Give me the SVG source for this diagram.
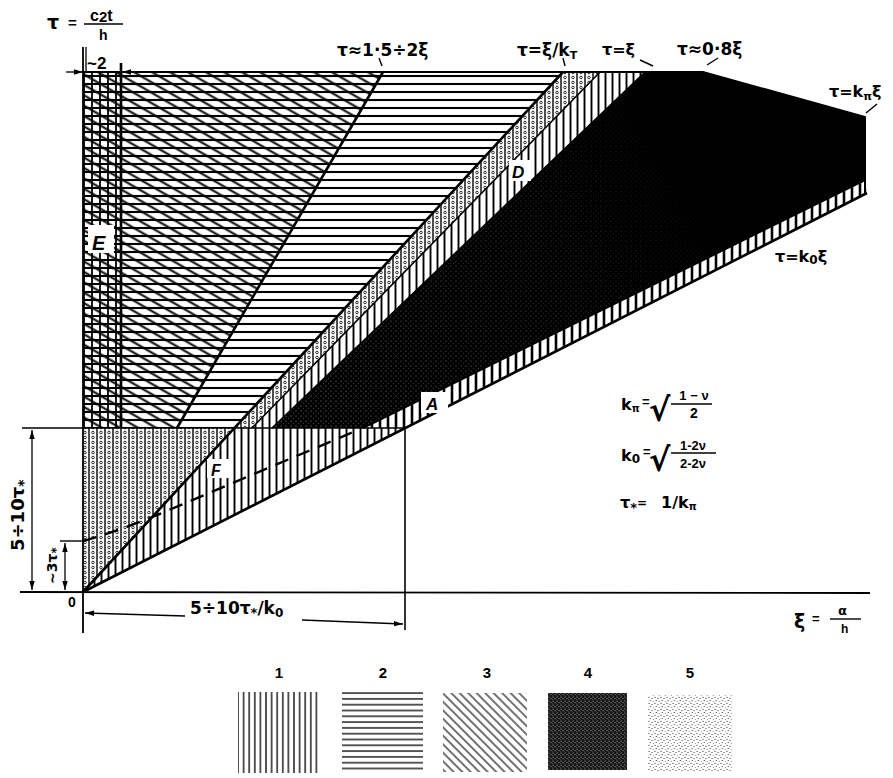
<svg xmlns="http://www.w3.org/2000/svg" width="893" height="778" viewBox="0 0 893 778">
<defs>
<style>
.t{font-family:"Liberation Sans","DejaVu Sans",sans-serif;font-weight:bold;fill:#000}
.g{font-family:"DejaVu Sans","Liberation Sans",sans-serif;font-weight:bold;fill:#000}
.ln{stroke:#000;fill:none}
.box{fill:#fff;stroke:none}
</style>
<pattern id="pv" width="7" height="7" patternUnits="userSpaceOnUse"><rect width="7" height="7" fill="#fff"/><line x1="3.5" y1="0" x2="3.5" y2="7" stroke="#000" stroke-width="1.9"/></pattern>
<pattern id="pvA" width="8" height="8" patternUnits="userSpaceOnUse"><rect width="8" height="8" fill="#fff"/><line x1="4" y1="0" x2="4" y2="8" stroke="#000" stroke-width="2.6"/></pattern>
<pattern id="ph" width="8" height="8" patternUnits="userSpaceOnUse"><line x1="0" y1="4" x2="8" y2="4" stroke="#000" stroke-width="2.1"/></pattern>
<pattern id="pvE" width="8" height="8" patternUnits="userSpaceOnUse"><line x1="4" y1="0" x2="4" y2="8" stroke="#000" stroke-width="1.8"/></pattern>
<pattern id="pd" width="9" height="9" patternUnits="userSpaceOnUse" patternTransform="rotate(30)"><line x1="0" y1="4.5" x2="9" y2="4.5" stroke="#000" stroke-width="2"/></pattern>
<pattern id="pc" width="8" height="5" patternUnits="userSpaceOnUse"><rect width="8" height="5" fill="#fff"/><line x1="1" y1="0" x2="1" y2="5" stroke="#000" stroke-width="1.4"/><circle cx="5" cy="2.5" r="1.3" fill="none" stroke="#000" stroke-width="0.8"/></pattern>
<pattern id="pDark" width="5" height="5" patternUnits="userSpaceOnUse"><rect width="5" height="5" fill="#000"/><circle cx="1" cy="1" r="0.5" fill="#fff" opacity="0.75"/><circle cx="3.5" cy="3.2" r="0.45" fill="#fff" opacity="0.6"/></pattern>
<linearGradient id="gDark" gradientUnits="userSpaceOnUse" x1="300" y1="420" x2="820" y2="140"><stop offset="0" stop-color="#000" stop-opacity="0"/><stop offset="0.55" stop-color="#000" stop-opacity="0.55"/><stop offset="0.8" stop-color="#000" stop-opacity="1"/></linearGradient>
<pattern id="l1" width="5.6" height="10" patternUnits="userSpaceOnUse"><rect width="5.6" height="10" fill="#fff"/><line x1="2.8" y1="0" x2="2.8" y2="10" stroke="#000" stroke-width="1.3"/></pattern>
<pattern id="l2" width="10" height="5.8" patternUnits="userSpaceOnUse"><rect width="10" height="5.8" fill="#fff"/><line x1="0" y1="2.9" x2="10" y2="2.9" stroke="#000" stroke-width="1.3"/></pattern>
<pattern id="l3" width="10" height="6" patternUnits="userSpaceOnUse" patternTransform="rotate(45)"><rect width="10" height="6" fill="#fff"/><line x1="0" y1="3" x2="10" y2="3" stroke="#000" stroke-width="1.1"/></pattern>
<pattern id="l4" width="4" height="4" patternUnits="userSpaceOnUse"><rect width="4" height="4" fill="#151515"/><circle cx="1" cy="1" r="0.6" fill="#fff" opacity="0.75"/><circle cx="3" cy="2.6" r="0.55" fill="#fff" opacity="0.6"/><circle cx="0.6" cy="3.4" r="0.4" fill="#fff" opacity="0.5"/></pattern>
<pattern id="l5" width="6" height="6" patternUnits="userSpaceOnUse"><rect width="6" height="6" fill="#fff"/><circle cx="1" cy="1.2" r="0.55" fill="#000"/><circle cx="4" cy="2.5" r="0.5" fill="#000"/><circle cx="2.2" cy="4.6" r="0.5" fill="#000"/><circle cx="5.2" cy="5.4" r="0.45" fill="#000"/></pattern>
<marker id="ah" viewBox="0 0 10 10" refX="10" refY="5" markerWidth="7" markerHeight="7" orient="auto-start-reverse"><path d="M0,2 L10,5 L0,8 z" fill="#000"/></marker>
</defs>
<rect width="893" height="778" fill="#fff"/>

<g id="regions">
  <g id="region-E">
    <rect x="83" y="72" width="38" height="356" fill="#fff"/>
    <rect x="83" y="72" width="38" height="356" fill="url(#ph)"/>
    <rect x="83" y="72" width="38" height="356" fill="url(#pd)"/>
    <rect x="83" y="72" width="38" height="356" fill="url(#pvE)"/>
  </g>
  <g id="region-cross">
    <polygon points="121,72 383,72 177,428 121,428" fill="url(#ph)"/>
    <polygon points="121,72 383,72 177,428 121,428" fill="url(#pd)"/>
  </g>
  <g id="region-horizontal">
    <polygon points="383,72 563,72 235,428 177,428" fill="url(#ph)"/>
  </g>
  <g id="region-dotted-band">
    <polygon points="563,72 600,72 252,428 235,428" fill="url(#pc)"/>
  </g>
  <g id="region-D">
    <polygon points="600,72 645,72 272,428 252,428" fill="url(#pv)"/>
  </g>
  <g id="region-dark">
    <polygon points="645,72 703,72 865,117 865,180 363,428 272,428" fill="url(#pDark)"/>
    <polygon points="645,72 703,72 865,117 865,180 363,428 272,428" fill="url(#gDark)"/>
  </g>
  <g id="region-A">
    <polygon points="363,428 865,180 867,193 405,428" fill="url(#pvA)"/>
  </g>
  <g id="region-dotted-low">
    <polygon points="83,428 235,428 83,592" fill="url(#pc)"/>
  </g>
  <g id="region-F">
    <polygon points="83,592 235,428 405,428" fill="url(#pv)"/>
  </g>
</g>

<g id="connectors">
  <polyline class="ln" points="83,72 703,72 865,117 865,193" stroke-width="2"/>
  <line class="ln" x1="177" y1="428" x2="383" y2="72" stroke-width="2.6"/>
  <line class="ln" x1="83" y1="592" x2="563" y2="72" stroke-width="2.6"/>
  <line class="ln" x1="252" y1="428" x2="600" y2="72" stroke-width="1.6"/>
  <line class="ln" x1="272" y1="428" x2="645" y2="72" stroke-width="1.6"/>
  <line class="ln" x1="363" y1="428" x2="865" y2="180" stroke-width="2.2"/>
  <line class="ln" x1="83" y1="592" x2="867" y2="193" stroke-width="2.6"/>
  <line class="ln" x1="22" y1="428" x2="405" y2="428" stroke-width="1.6"/>
  <line class="ln" x1="121" y1="63" x2="121" y2="428" stroke-width="2.6"/>
  <line class="ln" x1="83" y1="47" x2="83" y2="633" stroke-width="1.8"/>
  <line class="ln" x1="20" y1="592" x2="870" y2="593" stroke-width="1.8"/>
  <line class="ln" x1="405" y1="428" x2="405" y2="630" stroke-width="1.6"/>
  <path class="ln" d="M83,541 Q112,533 150,518 L358,430" stroke-width="2.4" stroke-dasharray="14 9"/>
  <line class="ln" x1="60" y1="541" x2="83" y2="541" stroke-width="1.4"/>
  <line class="ln" x1="32" y1="430" x2="32" y2="590" stroke-width="1.3" marker-start="url(#ah)" marker-end="url(#ah)"/>
  <line class="ln" x1="65" y1="543" x2="65" y2="590" stroke-width="1.3" marker-start="url(#ah)" marker-end="url(#ah)"/>
  <line class="ln" x1="66" y1="72" x2="83" y2="72" stroke-width="1.3" marker-end="url(#ah)"/>
  <line class="ln" x1="138" y1="72" x2="122" y2="72" stroke-width="1.3" marker-end="url(#ah)"/>
  <line class="ln" x1="86" y1="47" x2="86" y2="72" stroke-width="1.3"/>
  <line class="ln" x1="185" y1="616" x2="85" y2="613" stroke-width="1.3" marker-end="url(#ah)"/>
  <line class="ln" x1="302" y1="620" x2="403" y2="624" stroke-width="1.3" marker-end="url(#ah)"/>
  <line class="ln" x1="379" y1="58" x2="382" y2="66" stroke-width="1.4"/>
  <line class="ln" x1="563" y1="58" x2="565" y2="66" stroke-width="1.4"/>
  <line class="ln" x1="640" y1="60" x2="653" y2="66" stroke-width="1.4"/>
  <line class="ln" x1="718" y1="58" x2="707" y2="65" stroke-width="1.4"/>
  <line class="ln" x1="877" y1="104" x2="866" y2="113" stroke-width="1.4"/>
</g>

<g id="labels">
  <g id="tau-axis">
    <text class="g" x="47" y="29" font-size="19">τ</text>
    <text class="t" x="68" y="28" font-size="15">=</text>
    <text class="t" x="90" y="21" font-size="16">c<tspan font-size="15" dy="1">2</tspan><tspan dy="-1">t</tspan></text>
    <line class="ln" x1="84" y1="24" x2="123" y2="24" stroke-width="1.4"/>
    <text class="t" x="99" y="40" font-size="14">h</text>
  </g>
  <text class="t" x="87" y="69" font-size="17">~2</text>
  <text class="g" x="337" y="56" font-size="17">τ≈1·5÷2ξ</text>
  <text class="g" x="517" y="56" font-size="17">τ=ξ/k<tspan font-size="11" dy="3">T</tspan></text>
  <text class="g" x="602" y="55" font-size="16">τ=ξ</text>
  <text class="g" x="677" y="55" font-size="17">τ≈0·8ξ</text>
  <text class="g" x="829" y="97" font-size="16">τ=k<tspan font-size="11" dy="3">π</tspan><tspan dy="-3">ξ</tspan></text>
  <text class="g" x="775" y="262" font-size="16">τ=k<tspan font-size="12" dy="2">0</tspan><tspan dy="-2">ξ</tspan></text>
  <g id="label-E"><rect class="box" x="88" y="225" width="26" height="28"/><text class="t" x="92" y="250" font-size="20" font-style="italic">E</text></g>
  <g id="label-D"><rect class="box" x="509" y="160" width="22" height="21"/><text class="t" x="512" y="178" font-size="17" font-style="italic">D</text></g>
  <g id="label-A"><rect class="box" x="421" y="392" width="27" height="21"/><text class="t" x="426" y="410" font-size="17" font-style="italic">A</text></g>
  <g id="label-F"><rect class="box" x="207" y="459" width="22" height="19"/><text class="t" x="211" y="476" font-size="16" font-style="italic">F</text></g>
  <g id="formulas">
    <text class="g" x="621" y="410" font-size="16">k<tspan font-size="10" dy="2">π</tspan></text>
    <text class="t" x="642" y="406" font-size="13">=</text>
    <text class="g" x="649" y="421" font-size="32" font-weight="normal">√</text>
    <text class="t" x="694" y="400" font-size="13" text-anchor="middle">1 − ν</text>
    <line class="ln" x1="671" y1="404" x2="712" y2="404" stroke-width="1.4"/>
    <text class="t" x="694" y="418" font-size="14" text-anchor="middle">2</text>
    <text class="g" x="621" y="461" font-size="16">k<tspan font-size="12" dy="2">0</tspan></text>
    <text class="t" x="643" y="456" font-size="13">=</text>
    <text class="g" x="649" y="471" font-size="32" font-weight="normal">√</text>
    <text class="t" x="693" y="450" font-size="13" text-anchor="middle">1-2ν</text>
    <line class="ln" x1="671" y1="453" x2="716" y2="453" stroke-width="1.4"/>
    <text class="t" x="693" y="468" font-size="13" text-anchor="middle">2-2ν</text>
    <text class="g" x="620" y="508" font-size="16">τ<tspan font-size="13" dy="4">*</tspan><tspan font-size="12" dy="-5">=</tspan><tspan font-size="16" dx="14" dy="1">1/k</tspan><tspan font-size="10" dy="2">π</tspan></text>
  </g>
  <text class="g" font-size="18" transform="translate(24,551) rotate(-90)">5÷10τ<tspan font-size="14" dy="4">*</tspan></text>
  <text class="g" font-size="14" transform="translate(57,584) rotate(-90)">~3τ<tspan font-size="12" dy="3">*</tspan></text>
  <text class="t" x="68" y="607" font-size="14">0</text>
  <text class="g" x="190" y="614" font-size="17">5÷10τ<tspan font-size="13" dy="3">*</tspan><tspan dy="-3">/k</tspan><tspan font-size="12" dy="3">0</tspan></text>
  <g id="xi-axis">
    <text class="g" x="794" y="628" font-size="19">ξ</text>
    <text class="t" x="812" y="623" font-size="13">=</text>
    <text class="g" x="838" y="615" font-size="13">α</text>
    <line class="ln" x1="830" y1="619" x2="861" y2="619" stroke-width="1.4"/>
    <text class="t" x="841" y="633" font-size="12">h</text>
  </g>
</g>

<g id="legend">
  <g id="legend-1"><text class="t" x="279" y="678" font-size="15" text-anchor="middle">1</text><rect x="238" y="692" width="82" height="81" fill="url(#l1)"/></g>
  <g id="legend-2"><text class="t" x="383" y="678" font-size="15" text-anchor="middle">2</text><rect x="342" y="692" width="81" height="80" fill="url(#l2)"/></g>
  <g id="legend-3"><text class="t" x="487" y="678" font-size="15" text-anchor="middle">3</text><rect x="443" y="693" width="84" height="79" fill="url(#l3)"/></g>
  <g id="legend-4"><text class="t" x="588" y="678" font-size="15" text-anchor="middle">4</text><rect x="548" y="693" width="79" height="77" fill="url(#l4)"/></g>
  <g id="legend-5"><text class="t" x="690" y="678" font-size="15" text-anchor="middle">5</text><rect x="648" y="695" width="84" height="77" fill="url(#l5)"/></g>
</g>
</svg>
